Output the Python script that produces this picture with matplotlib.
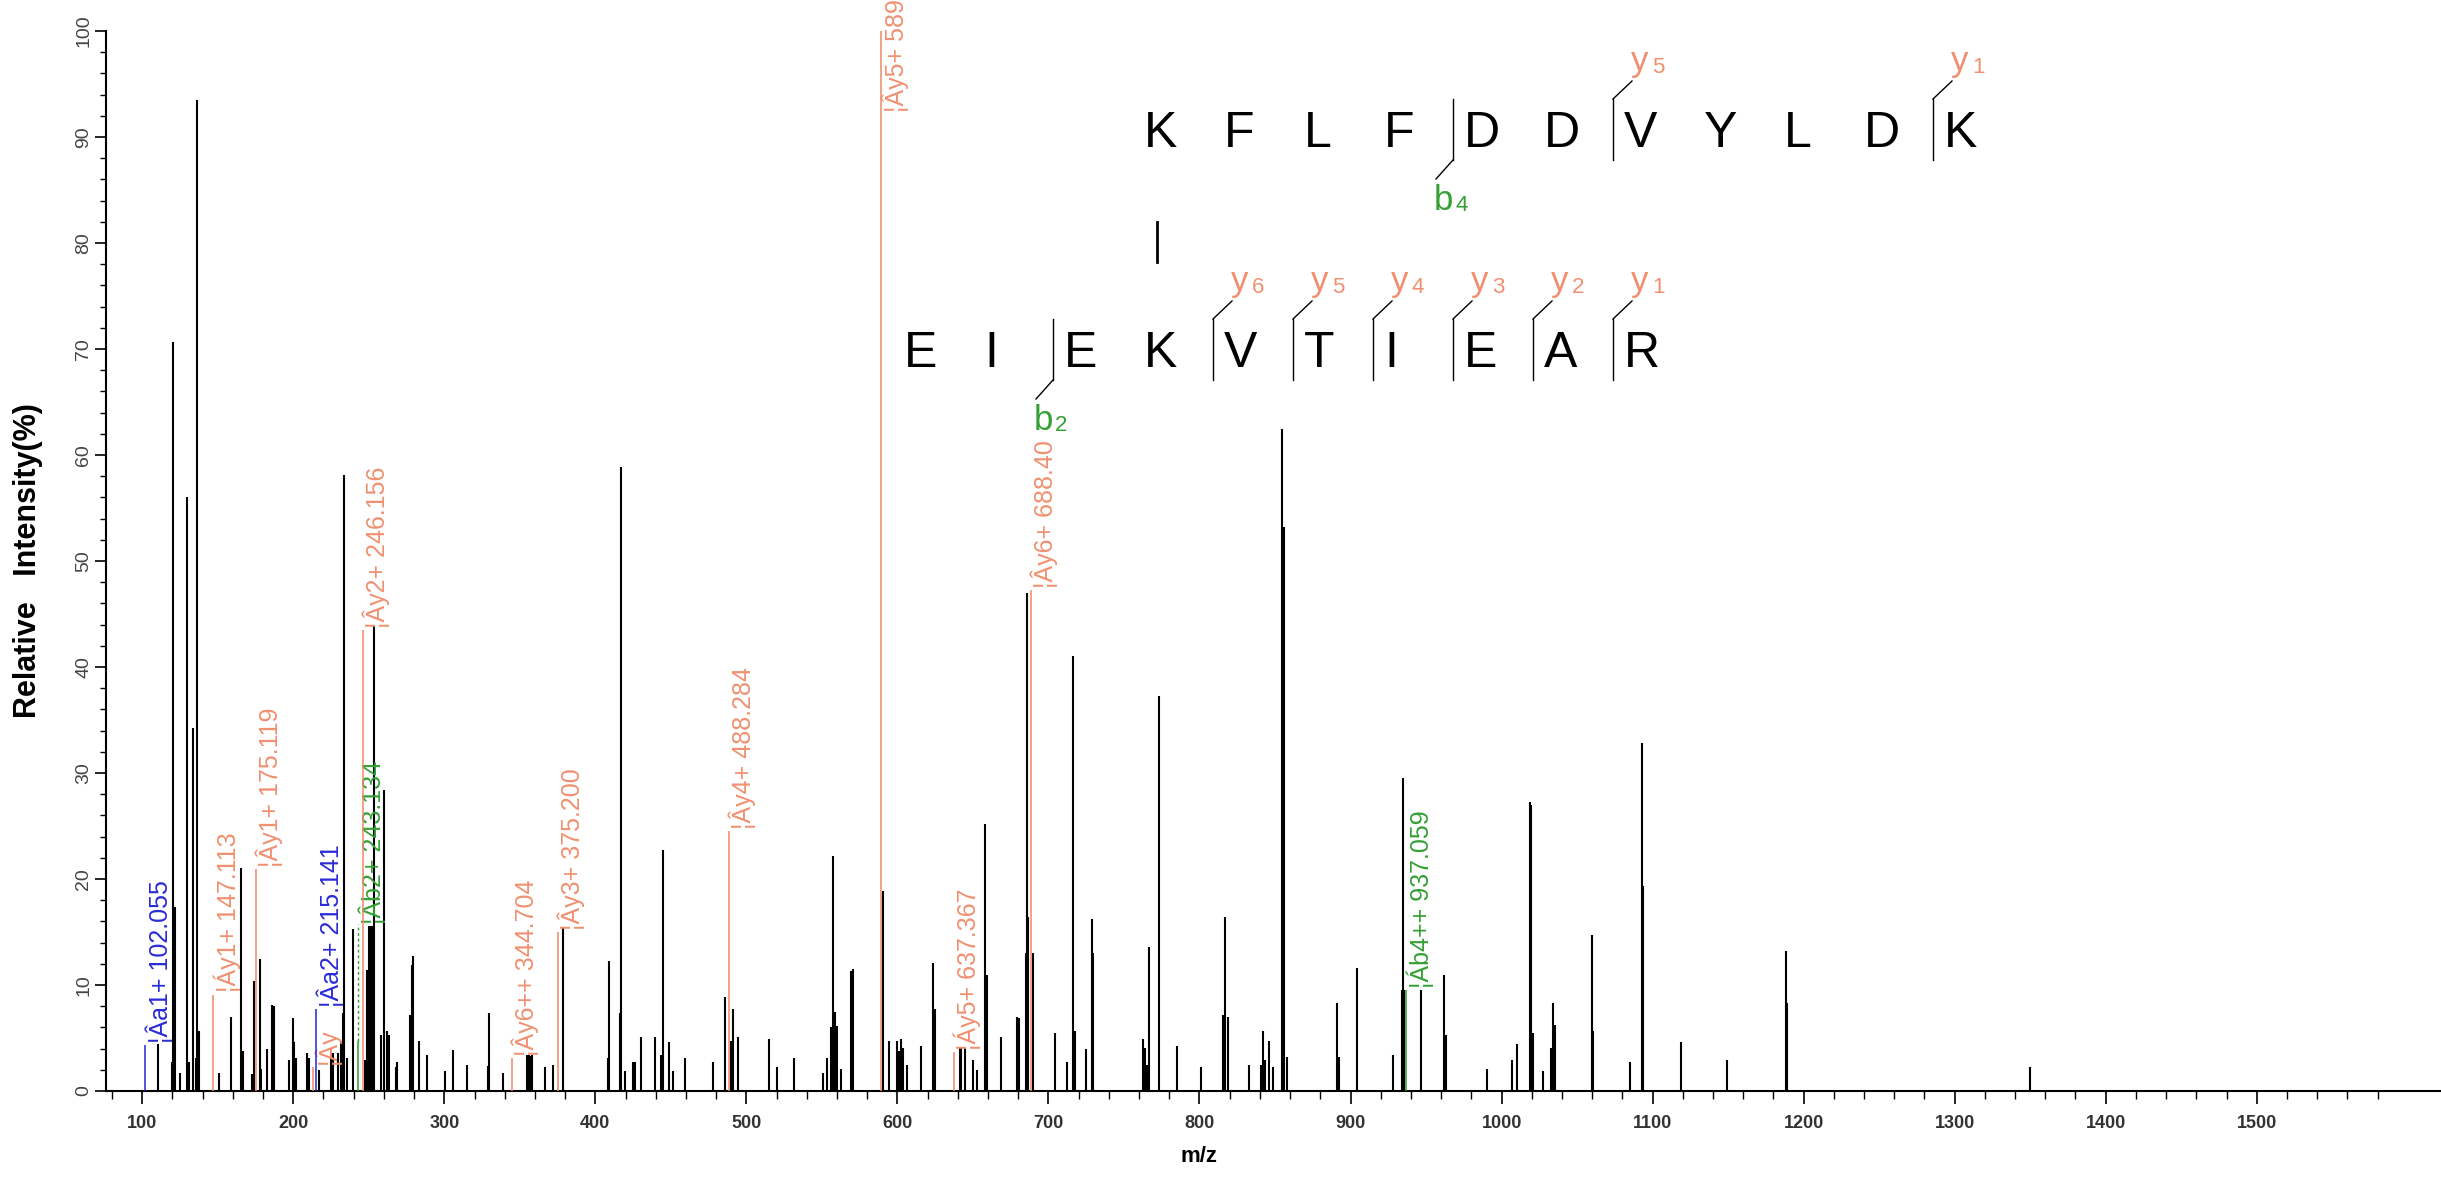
import matplotlib

matplotlib.use("Agg")

import matplotlib.pyplot as plt
from matplotlib.ticker import FixedLocator

W, H = 2441, 1182

plt.rcParams["font.family"] = ["Liberation Sans", "DejaVu Sans"]

# unannotated peaks: m/z and relative intensity (%)
peak_mz = [
    110.2, 119.4, 120.3, 121.4, 124.7, 129.6, 130.7, 133.6, 135.3, 136.2,
    137.3, 151.0, 158.9, 165.6, 166.4, 172.4, 173.7, 177.7, 178.4, 182.6,
    185.9, 187.0, 197.1, 199.8, 200.7, 202.0, 209.1, 210.2, 217.2, 225.2,
    226.3, 229.4, 231.8, 232.9, 233.3, 235.5, 239.5, 247.2, 248.8, 250.1,
    251.4, 252.8, 253.2, 258.1, 260.3, 262.1, 263.6, 268.0, 268.7, 277.5,
    278.6, 279.5, 283.4, 288.5, 300.7, 305.7, 315.0, 328.7, 329.8, 338.9,
    354.8, 356.0, 357.0, 358.1, 366.9, 372.0, 378.6, 408.2, 409.3, 416.2,
    417.3, 419.9, 425.2, 426.5, 430.5, 439.8, 443.7, 444.8, 449.0, 451.4,
    459.6, 477.9, 486.1, 490.0, 491.1, 494.2, 514.9, 520.2, 531.3, 550.7,
    553.4, 556.3, 557.4, 558.5, 560.0, 562.9, 569.5, 570.6, 590.4, 594.6,
    599.7, 600.8, 602.5, 603.6, 606.3, 615.8, 623.5, 624.6, 641.3, 642.4,
    645.0, 650.0, 652.8, 658.3, 659.4, 668.7, 679.4, 680.5, 684.8, 685.9,
    686.6, 689.9, 704.6, 712.3, 716.4, 717.5, 724.6, 728.6, 729.7, 762.7,
    763.8, 765.3, 766.6, 773.5, 785.2, 801.1, 815.7, 817.2, 819.0, 833.1,
    841.0, 842.1, 843.2, 846.3, 848.7, 854.7, 855.8, 857.9, 891.2, 892.3,
    904.4, 928.3, 933.8, 934.6, 935.5, 946.4, 961.8, 963.0, 990.6, 1006.7,
    1010.4, 1018.5, 1019.5, 1020.5, 1027.6, 1032.9, 1034.2, 1035.3, 1059.6, 1060.7,
    1084.8, 1092.7, 1093.8, 1119.0, 1149.4, 1188.1, 1189.2, 1349.7,
]
peak_int = [
    4.4, 2.7, 70.7, 17.4, 1.7, 56.0, 2.7, 34.2, 3.1, 93.5,
    5.7, 1.7, 7.0, 21.0, 3.8, 1.6, 10.4, 12.5, 2.1, 4.0,
    8.1, 8.0, 2.9, 6.9, 4.6, 3.1, 3.6, 3.1, 2.0, 3.6,
    3.6, 3.6, 4.7, 7.4, 58.1, 3.1, 15.3, 2.9, 11.4, 15.6,
    15.6, 15.6, 44.0, 5.3, 28.4, 5.7, 5.3, 2.3, 2.7, 7.2,
    11.9, 12.7, 4.7, 3.4, 1.9, 3.9, 2.5, 2.4, 7.4, 1.7,
    3.4, 3.4, 3.3, 3.4, 2.3, 2.5, 15.4, 3.1, 12.3, 7.4,
    58.9, 1.9, 2.7, 2.7, 5.1, 5.1, 3.4, 22.7, 4.6, 1.9,
    3.1, 2.7, 8.9, 4.7, 7.7, 5.1, 4.9, 2.3, 3.1, 1.7,
    3.1, 6.0, 22.2, 7.5, 6.1, 2.1, 11.3, 11.5, 18.9, 4.7,
    4.7, 3.8, 4.9, 4.1, 2.5, 4.2, 12.1, 7.7, 4.1, 4.1,
    4.1, 2.9, 2.0, 25.2, 10.9, 5.1, 7.0, 6.9, 13.0, 47.0,
    16.4, 13.0, 5.5, 2.7, 41.0, 5.7, 4.0, 16.2, 13.0, 4.9,
    4.1, 2.5, 13.6, 37.3, 4.2, 2.3, 7.2, 16.4, 7.0, 2.5,
    2.5, 5.7, 2.9, 4.7, 2.3, 62.5, 53.2, 3.2, 8.3, 3.2,
    11.6, 3.4, 9.5, 29.5, 9.5, 9.5, 10.9, 5.3, 2.1, 2.9,
    4.4, 27.3, 27.0, 5.5, 1.9, 4.1, 8.3, 6.2, 14.7, 5.7,
    2.7, 32.8, 19.3, 4.6, 2.9, 13.2, 8.3, 2.3,
]

# annotated fragment ions (¦Á = alpha peptide, ¦Â = beta peptide)
ion_mz = [102.055, 147.113, 175.119, 213.0, 215.141, 243.134, 246.156,
          344.704, 375.200, 488.284, 589.330, 637.367, 688.400, 937.059]
ion_int = [4.3, 9.1, 20.9, 2.3, 7.7, 4.7, 43.5,
           3.1, 15.0, 24.5, 100.0, 3.7, 47.3, 9.5]
ion_label = ["¦Âa1+ 102.055", "¦Áy1+ 147.113", "¦Ây1+ 175.119", "¦Ây",
             "¦Âa2+ 215.141", "¦Âb2+ 243.134", "¦Ây2+ 246.156",
             "¦Ây6++ 344.704", "¦Ây3+ 375.200", "¦Ây4+ 488.284",
             "¦Ây5+ 589.330", "¦Áy5+ 637.367", "¦Ây6+ 688.40",
             "¦Áb4++ 937.059"]
ion_type = ["a", "y", "y", "y", "a", "b", "y", "y", "y", "y", "y", "y", "y", "b"]

alpha_seq = "KFLFDDVYLDK"
beta_seq = "EIEKVTIEAR"
alpha_cuts = [(4, "b", "4"), (6, "y", "5"), (10, "y", "1")]
beta_cuts = [(2, "b", "2"), (4, "y", "6"), (5, "y", "5"), (6, "y", "4"),
             (7, "y", "3"), (8, "y", "2"), (9, "y", "1")]

LINE_COLOR = {"a": "#2626d6", "b": "#2f9a2f", "y": "#ec8a66"}
TEXT_COLOR = {"a": "#2a2ad8", "b": "#34a034", "y": "#f09070"}

# labels that the software pushed away from the peak top
label_base = {243.134: 15.8, 589.330: 92.4}


def draw_peptide(ov, seq, x0, baseline, cuts, step=80):
    for i, aa in enumerate(seq):
        ov.text(x0 + i * step, baseline, aa, fontsize=36, ha="left",
                va="baseline", color="black")
    top, bottom = baseline - 48, baseline + 13
    for idx, kind, num in cuts:
        xm = x0 + idx * step - 11
        ov.plot([xm, xm], [top, bottom], color="black", lw=1.0)
        col = TEXT_COLOR[kind]
        if kind == "y":
            ov.plot([xm, xm + 19], [top, top - 18], color="black", lw=1.0)
            ov.text(xm + 18, top - 28, "y", fontsize=25, color=col,
                    ha="left", va="baseline")
            ov.text(xm + 39, top - 26, num, fontsize=16, color=col,
                    ha="left", va="baseline")
        else:
            ov.plot([xm, xm - 17], [bottom, bottom + 19], color="black", lw=1.0)
            ov.text(xm - 19, bottom + 50, "b", fontsize=25, color=col,
                    ha="left", va="baseline")
            ov.text(xm + 2, bottom + 51, num, fontsize=16, color=col,
                    ha="left", va="baseline")


fig = plt.figure(figsize=(W / 100, H / 100), dpi=100)
ax = fig.add_axes([106 / W, 1 - 1091 / H, 1 - 106 / W, (1091 - 31) / H])

ax.vlines(peak_mz, 0, peak_int, color="black", lw=1.5, zorder=2)

for mz, inten, lab, kind in zip(ion_mz, ion_int, ion_label, ion_type):
    ax.vlines(mz, 0, inten, color=LINE_COLOR[kind], lw=1.1, zorder=3)
    base = label_base.get(mz, inten + 0.2)
    if base > inten + 1 and base < 90:
        ax.vlines(mz, inten, base, color=LINE_COLOR[kind], lw=1.0,
                  linestyles=(0, (2, 2)), zorder=3)
    ax.text(mz, base, lab, rotation=90, ha="left", va="bottom", fontsize=18,
            color=TEXT_COLOR[kind], clip_on=False, zorder=4 if kind == "a" else 3)

ax.set_xlim(76, 1622)
ax.set_ylim(0, 100)
for side in ("top", "right"):
    ax.spines[side].set_visible(False)
for side in ("left", "bottom"):
    ax.spines[side].set_linewidth(1.5)

ax.xaxis.set_major_locator(FixedLocator(range(100, 1501, 100)))
ax.xaxis.set_minor_locator(FixedLocator([v for v in range(80, 1581, 20) if v % 100]))
ax.yaxis.set_major_locator(FixedLocator(range(0, 101, 10)))
ax.yaxis.set_minor_locator(FixedLocator([v for v in range(0, 101, 2) if v % 10]))
ax.tick_params(axis="x", which="major", length=9, width=1.2, pad=8,
               labelsize=13, labelcolor="#333333")
ax.tick_params(axis="x", which="minor", length=5.5, width=1.0)
ax.tick_params(axis="y", which="major", length=8, width=1.2, pad=2,
               labelsize=14, labelcolor="#444444")
ax.tick_params(axis="y", which="minor", length=4.5, width=1.0)
for t in ax.get_xticklabels():
    t.set_fontweight("bold")
for t in ax.get_yticklabels():
    t.set_rotation(90)
    t.set_va("center")

fig.text(28 / W, 1 - 561 / H, "Relative   Intensity(%)", rotation=90,
         ha="center", va="center", fontsize=22, fontweight="bold")
fig.text(1199 / W, 1 - 1157 / H, "m/z", ha="center", va="center",
         fontsize=16, fontweight="bold")

# peptide sequence overlay in pixel coordinates
ov = fig.add_axes([0, 0, 1, 1])
ov.set_xlim(0, W)
ov.set_ylim(H, 0)
ov.axis("off")
draw_peptide(ov, alpha_seq, 1144, 147, alpha_cuts)
draw_peptide(ov, beta_seq, 904, 367, beta_cuts)
ov.plot([1157, 1157], [222, 262], color="black", lw=2.0)

fig.savefig("out.png", dpi=100)
